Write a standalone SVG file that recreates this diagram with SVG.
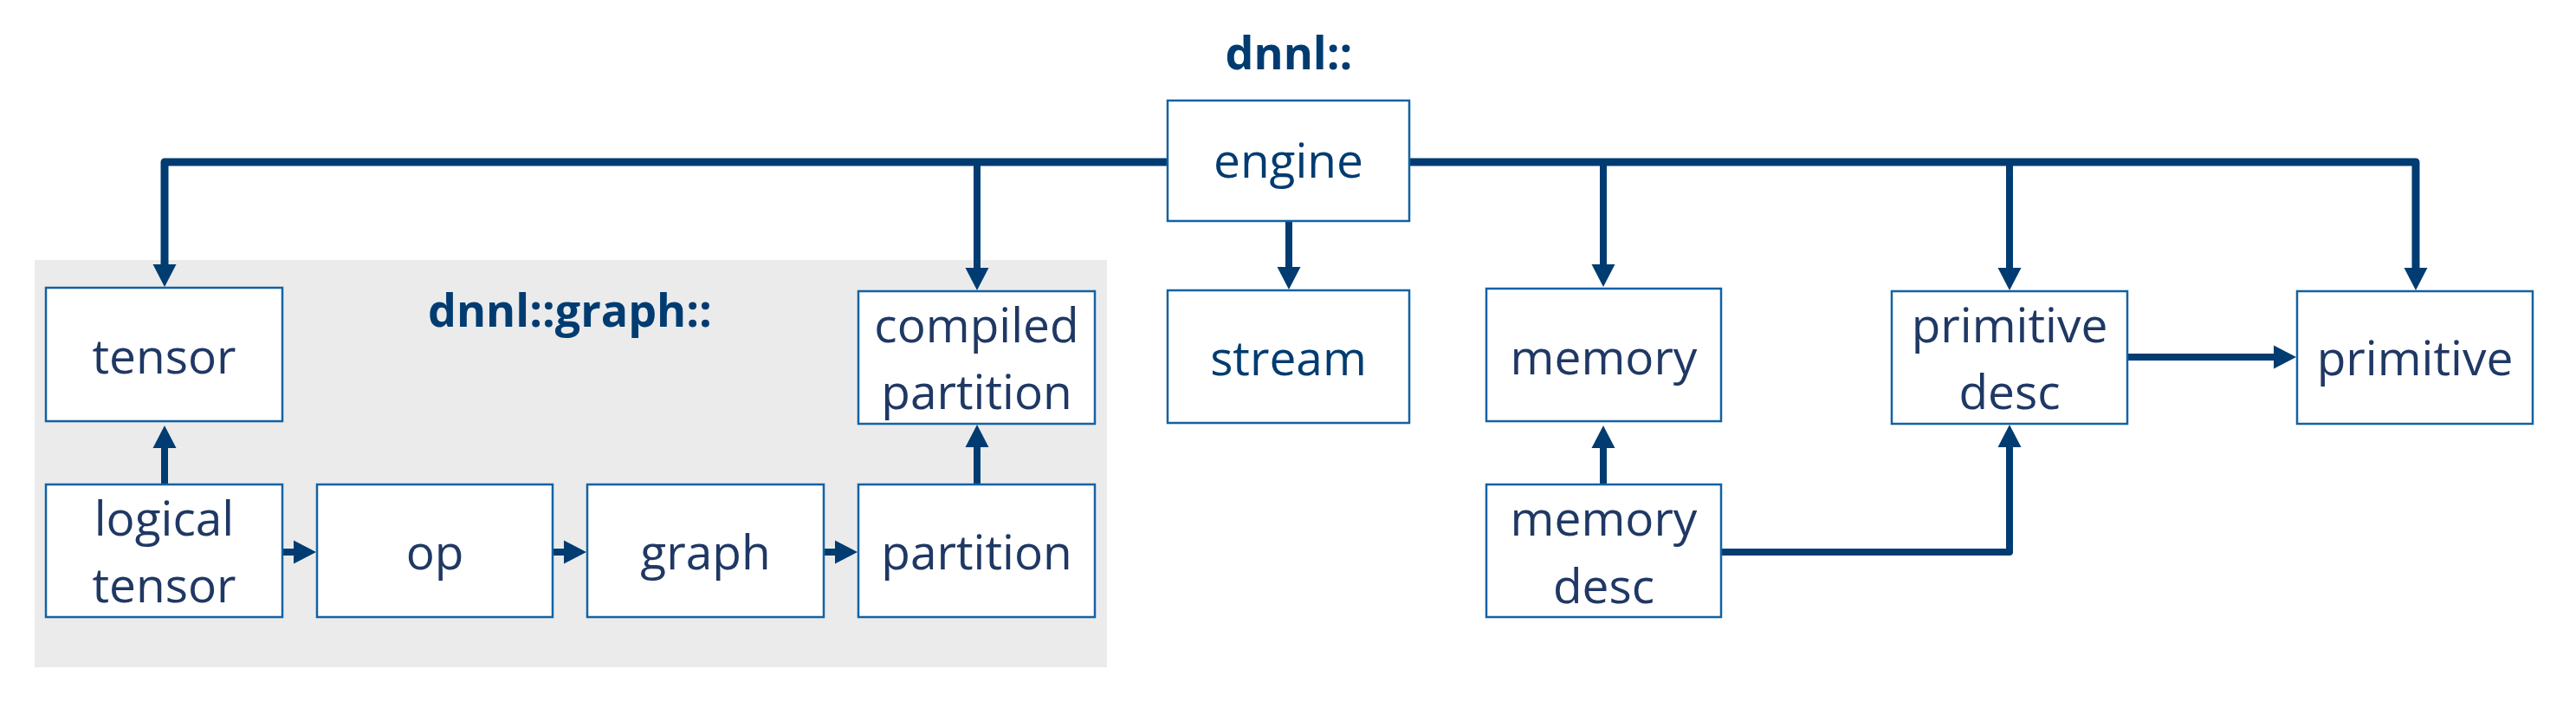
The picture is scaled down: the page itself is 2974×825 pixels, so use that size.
<svg xmlns="http://www.w3.org/2000/svg" width="2974" height="825" viewBox="0 0 2974 825">
<style>
.box{fill:#ffffff;stroke:#1362a3;stroke-width:2.5}
.t{font-family:"Open Sans","Noto Sans",sans-serif;font-size:55px;fill:#1f3864;text-anchor:middle}
.tb{fill:#003c71}
.title{font-family:"Open Sans","Noto Sans",sans-serif;font-size:52px;font-weight:bold;fill:#003c71;text-anchor:middle}
.c{fill:none;stroke:#003c71;stroke-width:8;stroke-linejoin:round;marker-end:url(#ah)}
.bus{stroke-width:9}
</style>
<defs>
<marker id="ah" markerUnits="userSpaceOnUse" markerWidth="30" markerHeight="30" refX="1" refY="13.5" orient="auto" overflow="visible">
<path d="M0,0 L26,13.5 L0,27 z" fill="#003c71"/>
</marker>
</defs>
<rect id="graph-ns-bg" x="40" y="300" width="1238" height="470" fill="#ebebeb"/>
<text class="title" x="1488" y="80">dnnl::</text>
<text class="title" x="658" y="377">dnnl::graph::</text>
<g id="connectors">
<path class="c bus" d="M1348,187 H190 V306"/>
<path class="c bus" d="M1627,187 H2789 V310"/>
<path class="c" d="M1128,187 V310"/>
<path class="c" d="M1851,187 V306"/>
<path class="c" d="M2320,187 V310"/>
<path class="c" d="M1488,255 V309"/>
<path class="c" d="M190,559 V516"/>
<path class="c" d="M1128,559 V515"/>
<path class="c" d="M1851,559 V516"/>
<path class="c" d="M1987,637 H2320 V515"/>
<path class="c" d="M2456,412 H2626"/>
<path class="c" d="M326,637 H340"/>
<path class="c" d="M638,637 H652"/>
<path class="c" d="M951,637 H965"/>
</g>
<g id="engine"><rect class="box" x="1348" y="116" width="279" height="139"/><text class="t tb" x="1487.5" y="205">engine</text></g>
<g id="tensor"><rect class="box" x="53" y="332" width="273" height="154"/><text class="t" x="189.5" y="431">tensor</text></g>
<g id="logical-tensor"><rect class="box" x="53" y="559" width="273" height="153"/><text class="t" x="189.5" y="618">logical</text><text class="t" x="189.5" y="695">tensor</text></g>
<g id="op"><rect class="box" x="366" y="559" width="272" height="153"/><text class="t" x="502" y="657">op</text></g>
<g id="graph"><rect class="box" x="678" y="559" width="273" height="153"/><text class="t" x="814.5" y="657">graph</text></g>
<g id="partition"><rect class="box" x="991" y="559" width="273" height="153"/><text class="t" x="1127.5" y="657">partition</text></g>
<g id="compiled-partition"><rect class="box" x="991" y="336" width="273" height="153"/><text class="t" x="1127.5" y="395">compiled</text><text class="t" x="1127.5" y="472">partition</text></g>
<g id="stream"><rect class="box" x="1348" y="335" width="279" height="153"/><text class="t tb" x="1487.5" y="433">stream</text></g>
<g id="memory"><rect class="box" x="1716" y="333" width="271" height="153"/><text class="t" x="1851.5" y="432">memory</text></g>
<g id="memory-desc"><rect class="box" x="1716" y="559" width="271" height="153"/><text class="t" x="1851.5" y="618">memory</text><text class="t" x="1851.5" y="696">desc</text></g>
<g id="primitive-desc"><rect class="box" x="2184" y="336" width="272" height="153"/><text class="t" x="2320" y="395">primitive</text><text class="t" x="2320" y="472">desc</text></g>
<g id="primitive"><rect class="box" x="2652" y="336" width="272" height="153"/><text class="t" x="2788" y="433">primitive</text></g>
</svg>
